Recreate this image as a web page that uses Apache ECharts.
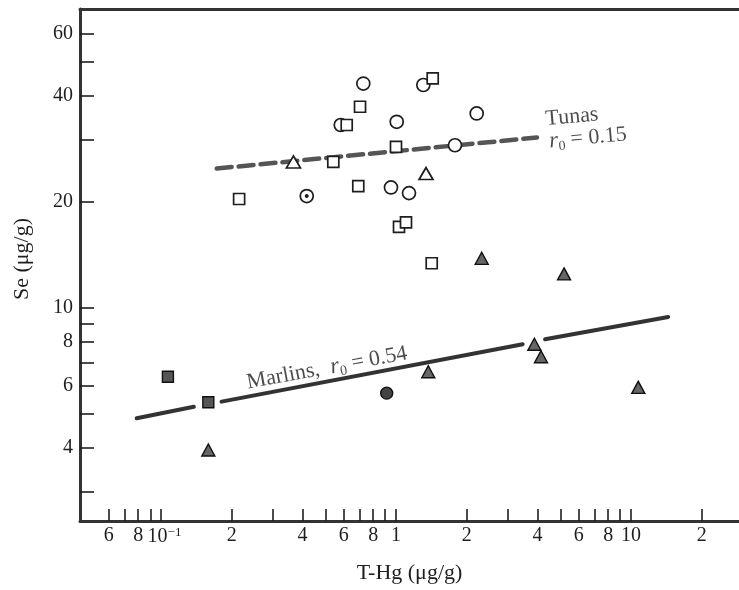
<!DOCTYPE html>
<html><head><meta charset="utf-8">
<script src="https://cdn.jsdelivr.net/npm/echarts@6/dist/echarts.min.js"></script>
<style>html,body{margin:0;padding:0;background:#fff}#c{width:739px;height:590px}</style>
</head><body><div id="c"></div>
<script>
// ---- data (T-Hg, Se) in µg/g ----
const tunaCircles = [[0.726,43.4],[1.307,43.0],[0.582,33.1],[1.007,33.8],[2.205,35.7],[1.782,29.0],[0.952,22.0],[1.136,21.2]];
const tunaSquares = [[1.433,44.9],[0.703,37.3],[0.617,33.1],[1.0,28.7],[0.541,26.0],[0.215,20.4],[0.691,22.2],[1.03,17.0],[1.103,17.5],[1.419,13.4]];
const tunaTriangles = [[0.366,26.0],[1.342,24.1]];
const tunaDotted = [[0.417,20.8]];
const marlinSquares = [[0.107,6.38],[0.159,5.40]];
const marlinCircles = [[0.913,5.73]];
const marlinTriangles = [[0.159,3.95],[1.372,6.59],[2.316,13.84],[5.19,12.5],[3.88,7.89],[4.14,7.27],[10.74,5.95]];
const tunaLine = [[0.1726,24.9],[3.98,30.5]];
const marlinSeg1 = [[0.0788,4.86],[0.138,5.24]];
const marlinSeg2 = [[0.181,5.42],[3.46,7.89]];
const marlinSeg3 = [[4.31,8.15],[14.4,9.43]];
// ---- axes ----
const xTicks = [0.06,0.07,0.08,0.09,0.1,0.2,0.3,0.4,0.5,0.6,0.7,0.8,0.9,1,2,3,4,5,6,7,8,9,10,20];
const xLabelValues = [0.06,0.08,0.1,0.2,0.4,0.6,0.8,1,2,4,6,8,10,20];
const xLabelTexts = ['6','8','{p|10}{s|−1}','2','4','6','8','1','2','4','6','8','10','2'];
const yTicks = [3,4,5,6,7,8,9,10,20,30,40,50,60];
const yLabelValues = [4,6,8,10,20,40,60];
const yLabelTexts = ['4','6','8','10','20','40','60'];
// ---- annotations ----
const annoTunas = [[5.61,34.9]];
const annoTunasR = [[6.56,30.4]];
const annoMarlins = [[0.5086,6.75]];

const XMIN = Math.pow(10,-1.3447), XMAX = Math.pow(10,1.4596);
const YMIN = Math.pow(10,0.3949), YMAX = Math.pow(10,1.8494);
const FONT = "'Liberation Serif','DejaVu Serif',serif";
const INK = '#1e1e1e';

function lookup(vals, texts){
  return function(v){
    for (let i=0;i<vals.length;i++){
      if (Math.abs(Math.log10(v)-Math.log10(vals[i]))<1e-4) return texts[i];
    }
    return '';
  };
}
const rTxt = {
  r:{fontFamily:FONT,fontStyle:'italic',fontSize:23,color:INK,lineHeight:26},
  sub:{fontFamily:FONT,fontSize:14,color:INK,verticalAlign:'bottom',lineHeight:14},
  t:{fontFamily:FONT,fontSize:22,color:INK,lineHeight:26}
};
function open(name, data, symbol, size){
  return {type:'scatter',name,data,symbol,symbolSize:size,z:5,
    itemStyle:{color:'#fff',borderColor:INK,borderWidth:1.7,opacity:1}};
}
function filled(name, data, symbol, size, fill){
  return {type:'scatter',name,data,symbol,symbolSize:size,z:5,
    itemStyle:{color:fill,borderColor:'#111',borderWidth:1.4,opacity:1}};
}
function seg(data){
  return {type:'line',data,showSymbol:false,symbol:'none',z:3,
    lineStyle:{color:'#333',width:4,cap:'round'}};
}
function anno(data, fmt, rot){
  return {type:'scatter',data,symbolSize:0,z:6,silent:true,
    label:{show:true,position:'inside',rotate:rot,formatter:fmt,rich:rTxt,fontFamily:FONT,fontSize:22,color:INK}};
}
const chart = echarts.init(document.getElementById('c'));
chart.setOption({
  animation:false,
  backgroundColor:'#fff',
  grid:{left:80,right:0,top:9,bottom:69,containLabel:false,outerBoundsMode:'none'},
  xAxis:[{
    type:'log',logBase:10,min:XMIN,max:XMAX,position:'bottom',
    axisLine:{show:true,lineStyle:{color:'#333',width:3}},
    axisTick:{show:true,inside:true,length:12,customValues:xTicks,lineStyle:{color:INK,width:1.6}},
    minorTick:{show:false},splitLine:{show:false},
    axisLabel:{show:true,customValues:xLabelValues,margin:5,formatter:lookup(xLabelValues,xLabelTexts),
      fontFamily:FONT,fontSize:20,color:INK,
      rich:{p:{fontFamily:FONT,fontSize:20,color:INK,lineHeight:22,padding:[0,0,0,7]},
            s:{fontFamily:FONT,fontSize:13,color:INK,verticalAlign:'top',lineHeight:13}}},
    name:'T-Hg (μg/g)',nameLocation:'middle',nameGap:41,
    nameTextStyle:{fontFamily:FONT,fontSize:22,color:INK}
  },{
    type:'log',logBase:10,min:XMIN,max:XMAX,position:'top',
    axisLine:{show:true,lineStyle:{color:'#333',width:3}},
    axisTick:{show:false},axisLabel:{show:false},splitLine:{show:false}
  }],
  yAxis:{
    type:'log',logBase:10,min:YMIN,max:YMAX,
    axisLine:{show:true,lineStyle:{color:'#333',width:3}},
    axisTick:{show:true,inside:true,length:14,customValues:yTicks,lineStyle:{color:INK,width:1.6}},
    minorTick:{show:false},splitLine:{show:false},
    axisLabel:{show:true,customValues:yLabelValues,margin:7,formatter:lookup(yLabelValues,yLabelTexts),
      fontFamily:FONT,fontSize:20,color:INK},
    name:'Se (μg/g)',nameLocation:'middle',nameGap:47,
    nameTextStyle:{fontFamily:FONT,fontSize:22,color:INK,padding:[0,0,0,12]}
  },
  series:[
    {type:'line',data:tunaLine,showSymbol:false,symbol:'none',z:3,
      lineStyle:{color:'#555',width:4.5,type:[15,7],cap:'round'}},
    seg(marlinSeg1),seg(marlinSeg2),seg(marlinSeg3),
    open('tuna circles',tunaCircles,'circle',13),
    open('tuna squares',tunaSquares,'rect',11),
    open('tuna triangles',tunaTriangles,'triangle',[14,12]),
    open('tuna dotted',tunaDotted,'circle',13),
    {type:'scatter',data:tunaDotted,symbol:'circle',symbolSize:4,z:6,itemStyle:{color:INK,opacity:1}},
    filled('marlin squares',marlinSquares,'rect',11,'#555'),
    filled('marlin circles',marlinCircles,'circle',12,'#444'),
    filled('marlin triangles',marlinTriangles,'triangle',[13,12],'#666'),
    anno(annoTunas,'{t|Tunas}',5),
    anno(annoTunasR,'{r|r}{sub|0}{t| = 0.15}',5),
    anno(annoMarlins,'{t|Marlins,  }{r|r}{sub|0}{t| = 0.54}',10.5)
  ]
});
</script></body></html>
